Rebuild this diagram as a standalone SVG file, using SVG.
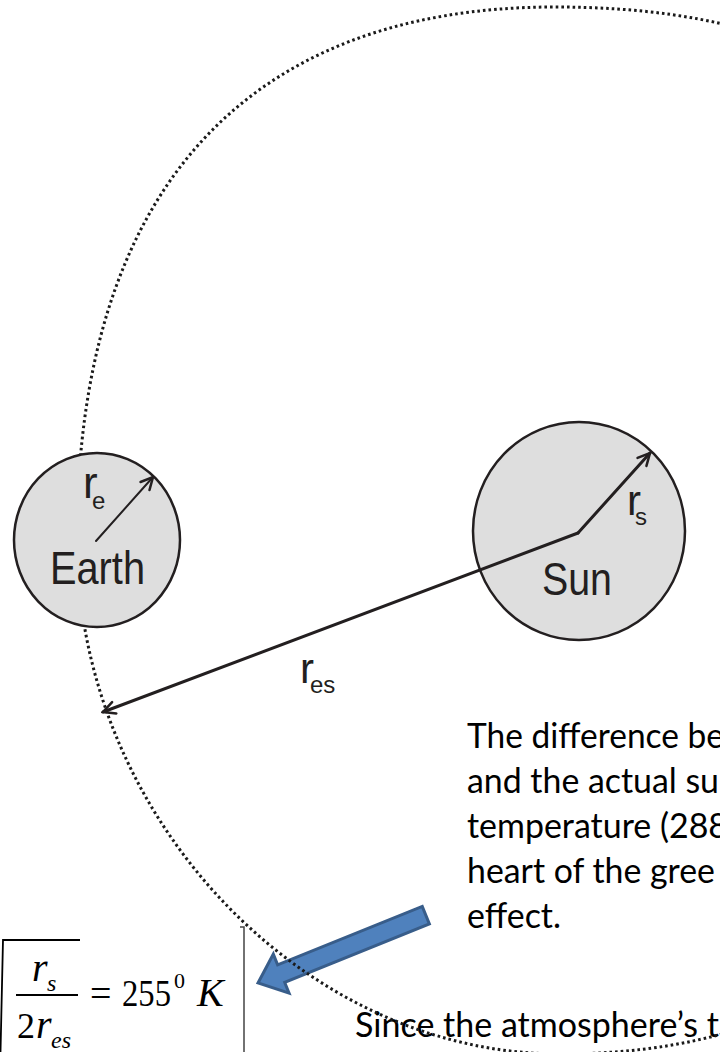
<svg xmlns="http://www.w3.org/2000/svg" width="720" height="1052" viewBox="0 0 720 1052">
<style>
.body{font-family:Lato,"Open Sans","Liberation Sans",sans-serif;font-size:35px;fill:#000}
.lbl{font-family:"Liberation Sans",Arial,sans-serif;fill:#231f20}
.math{font-family:"Liberation Serif","Times New Roman",serif;fill:#000}
.it{font-style:italic}
.node{fill:#dedede;stroke:#231f20;stroke-width:2.5}
.conn{fill:none;stroke:#231f20;stroke-linecap:round}
</style>
<defs>
<marker id="open" viewBox="0 0 16 16" refX="14" refY="8" markerWidth="16" markerHeight="16" orient="auto" markerUnits="userSpaceOnUse">
<path d="M2,2 L14,8 L2,14" fill="none" stroke="#231f20" stroke-width="2.5" stroke-linecap="round" stroke-linejoin="miter"/>
</marker>
</defs>
<rect width="720" height="1052" fill="#fff"/>

<g id="text-block">
<text class="body" x="467" y="748" textLength="257" lengthAdjust="spacingAndGlyphs">The difference be</text>
<text class="body" x="467" y="793" textLength="252" lengthAdjust="spacingAndGlyphs">and the actual su</text>
<text class="body" x="467" y="838" textLength="261" lengthAdjust="spacingAndGlyphs">temperature (288</text>
<text class="body" x="467" y="883" textLength="248" lengthAdjust="spacingAndGlyphs">heart of the gree</text>
<text class="body" x="467" y="928" textLength="94" lengthAdjust="spacingAndGlyphs">effect.</text>
<text class="body" x="355" y="1037" textLength="364" lengthAdjust="spacingAndGlyphs">Since the atmosphere’s t</text>
</g>

<g id="formula">
<path d="M0.5,1052 L3,940 L80,940" fill="none" stroke="#000" stroke-width="1.8"/>
<text class="math it" x="32" y="981" font-size="40">r</text>
<text class="math it" x="47" y="991" font-size="24">s</text>
<line x1="16" y1="995" x2="78" y2="995" stroke="#000" stroke-width="1.8"/>
<text class="math" x="17" y="1038" font-size="36">2</text>
<text class="math it" x="36" y="1038" font-size="40">r</text>
<text class="math it" x="51" y="1048" font-size="24">es</text>
<text class="math" x="90" y="1006" font-size="38">=</text>
<text class="math" x="122" y="1006" font-size="38" textLength="49" lengthAdjust="spacingAndGlyphs">255</text>
<text class="math" x="174" y="988" font-size="22">0</text>
<text class="math it" x="197" y="1006" font-size="40">K</text>
<path d="M240,927 L244,927 L244,1052" fill="none" stroke="#444" stroke-width="1.5"/>
</g>

<g id="blue-arrow">
<path d="M0,0 L25,-21 L25,-9.5 L181,-9.5 L181,9.5 L25,9.5 L25,21 Z" transform="translate(258,983) rotate(-22)" fill="#4f81bd" stroke="#385d8a" stroke-width="3" stroke-linejoin="miter"/>
</g>

<g id="orbit">
<path d="M77,540 C77,194 244,7 555,7 C890,7 1033,167 1033,540 C1033,874 867,1054 560,1054 C302,1054 77,815 77,540 Z" fill="none" stroke="#1a1a1a" stroke-width="3" stroke-dasharray="2.6 3"/>
</g>

<g id="earth">
<ellipse class="node" cx="97" cy="540" rx="83" ry="87"/>
<text class="lbl" x="50" y="584" font-size="47" textLength="95" lengthAdjust="spacingAndGlyphs">Earth</text>
<text class="lbl" x="83" y="498" font-size="44">r</text>
<text class="lbl" x="92" y="509" font-size="24">e</text>
</g>

<g id="sun">
<ellipse class="node" cx="579" cy="531" rx="106" ry="109"/>
<text class="lbl" x="542" y="595" font-size="46" textLength="70" lengthAdjust="spacingAndGlyphs">Sun</text>
<text class="lbl" x="627" y="515" font-size="42">r</text>
<text class="lbl" x="635" y="525" font-size="24">s</text>
</g>

<g id="connectors">
<line class="conn" x1="96" y1="541" x2="153" y2="477" stroke-width="2" marker-end="url(#open)"/>
<line class="conn" x1="578" y1="533" x2="650" y2="453" stroke-width="3" marker-end="url(#open)"/>
<line class="conn" x1="578" y1="533" x2="103" y2="712" stroke-width="3" marker-end="url(#open)"/>
<text class="lbl" x="300" y="683" font-size="42">r</text>
<text class="lbl" x="310" y="693" font-size="24">es</text>
</g>
</svg>
